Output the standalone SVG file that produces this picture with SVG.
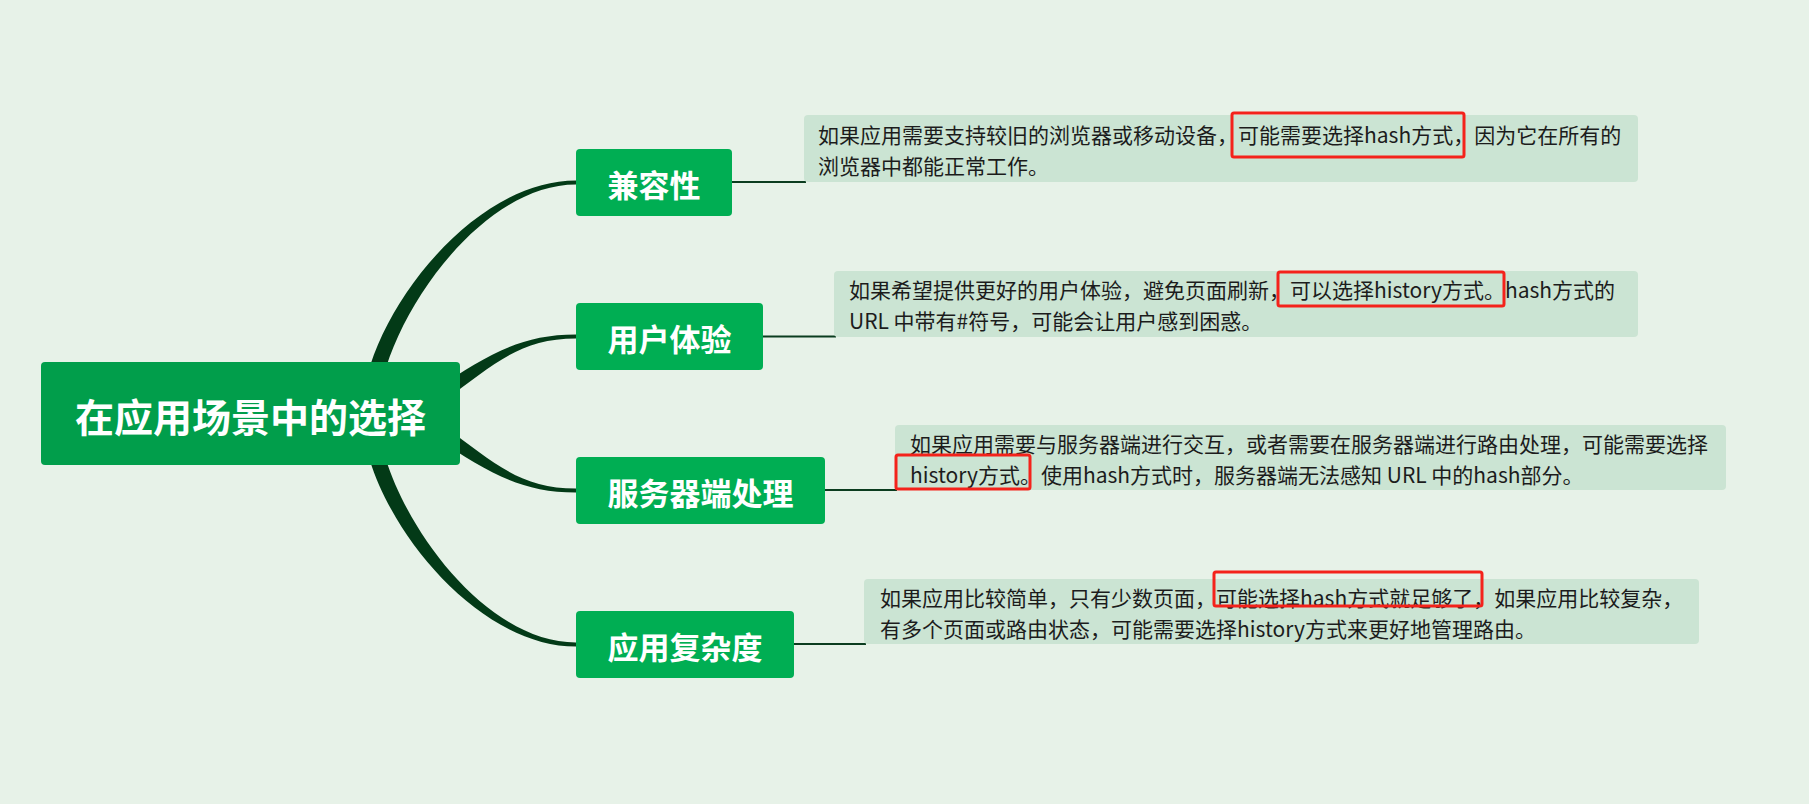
<svg xmlns="http://www.w3.org/2000/svg" width="1809" height="804" viewBox="0 0 1809 804">
<style>
.bg{fill:#e7f2e8}
.br{fill:#033a17}
.ln{stroke:#0b3d1f;stroke-width:2;fill:none}
.root{fill:#019e4b}
.child{fill:#00ae53}
.tbox{fill:#cbe4d3}
.red{fill:none;stroke:#f4221b;stroke-width:3}
.rt{font-family:"Noto Sans CJK SC","Noto Sans",sans-serif;font-weight:bold;font-size:39px;fill:#fff;text-anchor:middle}
.ct{font-family:"Noto Sans CJK SC","Noto Sans",sans-serif;font-weight:bold;font-size:31px;fill:#fff;text-anchor:middle}
.tt{font-family:"Noto Sans CJK SC","Noto Sans",sans-serif;font-size:21px;fill:#1c1c1c}
</style>
<rect class="bg" x="0" y="0" width="1809" height="804"/>
<g id="connectors">
<path class="br" d="M 362 413 C 362 325 468 180.5 576 180.5 L 576 184.5 C 474 184.5 378 335 378 413 Z"/>
<path class="br" d="M 436 389 C 487 355.5 520 334.5 576 334.5 L 576 338.5 C 520 338.5 493.5 364.5 444 401 Z"/>
<path class="br" d="M 436 438 C 487 471.5 520 492.5 576 492.5 L 576 488.5 C 520 488.5 493.5 462.5 444 426 Z"/>
<path class="br" d="M 362 414 C 362 502 468 646.5 576 646.5 L 576 642.5 C 474 642.5 378 492 378 414 Z"/>
<line class="ln" x1="730" y1="182" x2="806" y2="182"/>
<line class="ln" x1="761" y1="336.5" x2="836" y2="336.5"/>
<line class="ln" x1="823" y1="490" x2="897" y2="490"/>
<line class="ln" x1="792" y1="644" x2="866" y2="644"/>
</g>
<g id="root">
<rect class="root" x="41" y="362" width="419" height="103" rx="4"/>
<text class="rt" x="250.5" y="432">在应用场景中的选择</text>
</g>
<g id="node-compat">
<rect class="child" x="576" y="149" width="156" height="67" rx="4"/>
<text class="ct" x="654" y="196.5">兼容性</text>
</g>
<g id="node-ux">
<rect class="child" x="576" y="303" width="187" height="67" rx="4"/>
<text class="ct" x="669.5" y="350.5">用户体验</text>
</g>
<g id="node-server">
<rect class="child" x="576" y="457" width="249" height="67" rx="4"/>
<text class="ct" x="700.5" y="504.5">服务器端处理</text>
</g>
<g id="node-complex">
<rect class="child" x="576" y="611" width="218" height="67" rx="4"/>
<text class="ct" x="685" y="658.5">应用复杂度</text>
</g>
<g id="note-compat">
<rect class="tbox" x="804" y="115" width="834" height="67" rx="4"/>
<text class="tt" x="818" y="142.5">如果应用需要支持较旧的浏览器或移动设备，可能需要选择hash方式，因为它在所有的</text>
<text class="tt" x="818" y="173.5">浏览器中都能正常工作。</text>
<rect class="red" x="1232" y="113" width="232" height="44" rx="2"/>
</g>
<g id="note-ux">
<rect class="tbox" x="834" y="271" width="804" height="66" rx="4"/>
<text class="tt" x="849" y="298">如果希望提供更好的用户体验，避免页面刷新，可以选择history方式。hash方式的</text>
<text class="tt" x="849" y="329">URL 中带有#符号，可能会让用户感到困惑。</text>
<rect class="red" x="1278" y="272" width="226" height="34" rx="2"/>
</g>
<g id="note-server">
<rect class="tbox" x="895" y="425" width="831" height="65" rx="4"/>
<text class="tt" x="910" y="451.5">如果应用需要与服务器端进行交互，或者需要在服务器端进行路由处理，可能需要选择</text>
<text class="tt" x="910" y="482.5">history方式。使用hash方式时，服务器端无法感知 URL 中的hash部分。</text>
<rect class="red" x="896" y="455" width="134" height="34" rx="2"/>
</g>
<g id="note-complex">
<rect class="tbox" x="864" y="579" width="835" height="65" rx="4"/>
<text class="tt" x="880" y="605.5">如果应用比较简单，只有少数页面，可能选择hash方式就足够了，如果应用比较复杂，</text>
<text class="tt" x="880" y="636.5">有多个页面或路由状态，可能需要选择history方式来更好地管理路由。</text>
<rect class="red" x="1214" y="572" width="268" height="34" rx="2"/>
</g>
</svg>
